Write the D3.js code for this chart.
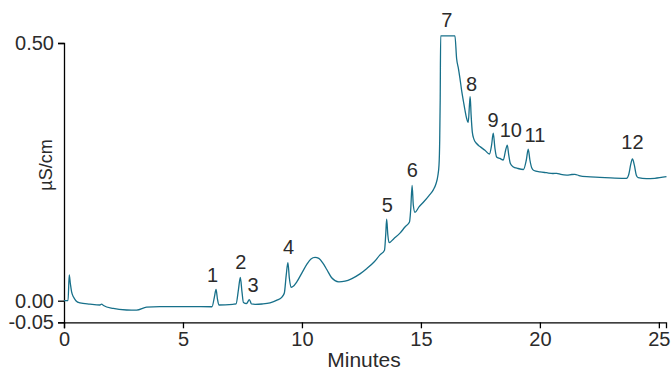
<!DOCTYPE html>
<html>
<head>
<meta charset="utf-8">
<script src="https://cdn.jsdelivr.net/npm/d3@7"></script>
<style>
    body { margin: 0; background: #fff; }
    svg { display: block; font-family: "Liberation Sans", Arial, Helvetica, sans-serif; }
    .axis path, .axis line { stroke: #000; stroke-width: 1.3; }
    .axis text { fill: #2b2b2b; font-size: 20px; }
    .label { fill: #2b2b2b; font-size: 21px; }
    .peak { fill: #2b2b2b; font-size: 20px; text-anchor: middle; }
    .trace { fill: none; stroke: #17708a; stroke-width: 1.3; }
</style>
</head>
<body>
<script>
// chromatogram trace (minutes, µS/cm)
const times = [
    0.00, 0.17, 0.22, 0.27, 0.32, 0.40, 0.50, 0.67, 1.09, 1.51, 1.58, 1.66, 2.07, 2.63, 3.05, 3.47, 4.03, 5.29, 6.22,
    6.32, 6.39, 6.45, 6.51, 7.10,
    7.23, 7.33, 7.41, 7.48, 7.54, 7.67, 7.79, 7.88,
    8.03, 8.32, 8.66, 8.95, 9.16, 9.26,
    9.34, 9.41, 9.47, 9.54,
    9.62, 9.79, 10.00, 10.21, 10.38, 10.55, 10.71, 10.88, 11.05, 11.24, 11.39, 11.55, 11.81, 12.10, 12.44, 12.73, 13.03, 13.28, 13.47,
    13.52, 13.56, 13.61, 13.66,
    13.87, 14.12, 14.33, 14.52, 14.57,
    14.63, 14.68, 14.75,
    14.92, 15.13, 15.34, 15.52, 15.63, 15.71, 15.76, 15.79, 15.81, 15.83,
    16.43,
    16.50, 16.58, 16.64, 16.72, 16.79, 16.85, 16.92, 16.99,
    17.04, 17.07, 17.11, 17.16, 17.23, 17.34, 17.48, 17.69, 17.88,
    17.97, 18.04, 18.11, 18.18, 18.32, 18.46,
    18.56, 18.63, 18.69, 18.76, 18.87, 19.08, 19.31,
    19.43, 19.51, 19.58, 19.66, 19.75,
    20.00, 20.28, 20.55, 20.71, 20.88, 21.13, 21.34, 21.47, 21.64, 21.97, 22.52, 23.15, 23.64,
    23.74, 23.82, 23.89, 23.97, 24.05, 24.13,
    24.48, 24.83, 25.32
];
const conductivity = [
    0.000, 0.000, 0.050, 0.032, 0.017, 0.007, 0.000, -0.005, -0.008, -0.010, -0.008, -0.011, -0.018, -0.0215, -0.022, -0.015, -0.0135, -0.0135, -0.014,
    0.007, 0.022, 0.003, -0.010, -0.0083,
    -0.0076, 0.021, 0.045, 0.017, -0.004, -0.0065, 0.002, -0.0076,
    -0.0083, -0.0076, -0.005, 0.001, 0.007, 0.015,
    0.050, 0.074, 0.044, 0.026,
    0.0275, 0.037, 0.054, 0.071, 0.081, 0.084, 0.082, 0.073, 0.060, 0.045, 0.039, 0.0367, 0.038, 0.043, 0.052, 0.0625, 0.075, 0.089, 0.098,
    0.1275, 0.158, 0.1275, 0.1125,
    0.1207, 0.131, 0.143, 0.1527, 0.176,
    0.2235, 0.1857, 0.1715,
    0.182, 0.1925, 0.204, 0.215, 0.2265, 0.242, 0.263, 0.312, 0.389, 0.514,
    0.514,
    0.470, 0.4495, 0.4315, 0.405, 0.386, 0.370, 0.354, 0.346,
    0.380, 0.396, 0.360, 0.327, 0.313, 0.305, 0.299, 0.292, 0.2846,
    0.302, 0.325, 0.296, 0.279, 0.276, 0.273,
    0.292, 0.302, 0.283, 0.266, 0.260, 0.2565, 0.2546,
    0.273, 0.294, 0.273, 0.2575, 0.2526,
    0.250, 0.2483, 0.2468, 0.2472, 0.2449, 0.2435, 0.2449, 0.2452, 0.2429, 0.2406, 0.2394, 0.238, 0.2375,
    0.2459, 0.265, 0.275, 0.263, 0.244, 0.2387,
    0.2367, 0.2375, 0.2406
];

// peak numbers and where their labels sit (minutes, µS/cm)
const peakNames = ['1', '2', '3', '4', '5', '6', '7', '8', '9', '10', '11', '12'];
const peakLabelTimes = [6.24, 7.43, 7.95, 9.44, 13.59, 14.64, 16.09, 17.13, 18.03, 18.78, 19.79, 23.89];
const peakLabelValues = [0.0357, 0.0615, 0.0163, 0.090, 0.1715, 0.2406, 0.531, 0.4075, 0.337, 0.3176, 0.308, 0.2938];

const xTicks = [0, 5, 10, 15, 20, 25];
const yTicks = [-0.05, 0.00, 0.50];

const width = 671;
const height = 370;

const x = d3.scaleLinear().domain([0, 25.3]).range([64, 666]);
// the source axis is not quite linear below zero, so the scale is piecewise
const y = d3.scaleLinear().domain([-0.05, 0, 0.5]).range([322.3, 300.7, 43]);

const svg = d3.select('body').append('svg')
    .attr('width', width)
    .attr('height', height);

svg.append('g').attr('class', 'axis x-axis')
    .attr('transform', `translate(0,${y(-0.05)})`)
    .call(d3.axisBottom(x).tickValues(xTicks).tickFormat(d3.format('d')).tickSizeOuter(0).tickSize(6).tickPadding(4));

svg.append('g').attr('class', 'axis y-axis')
    .attr('transform', `translate(${x(0)},0)`)
    .call(d3.axisLeft(y).tickValues(yTicks).tickFormat((d) => d.toFixed(2)).tickSizeOuter(0).tickSize(6).tickPadding(4));

const points = times.map((t, i) => ({ t: t, v: conductivity[i] }));
const line = d3.line().x((d) => x(d.t)).y((d) => y(d.v)).curve(d3.curveMonotoneX);

svg.append('path')
    .datum(points)
    .attr('class', 'trace')
    .attr('d', line);

svg.selectAll('text.peak')
    .data(peakNames)
    .enter().append('text')
    .attr('class', 'peak')
    .attr('x', (d, i) => x(peakLabelTimes[i]))
    .attr('y', (d, i) => y(peakLabelValues[i]))
    .text((d) => d);

svg.append('text')
    .attr('class', 'label')
    .attr('text-anchor', 'middle')
    .attr('x', 364)
    .attr('y', 367)
    .text('Minutes');

svg.append('text')
    .attr('class', 'label')
    .attr('text-anchor', 'middle')
    .attr('transform', 'translate(52,165) rotate(-90)')
    .style('font-size', '18px')
    .text('µS/cm');
</script>
</body>
</html>
